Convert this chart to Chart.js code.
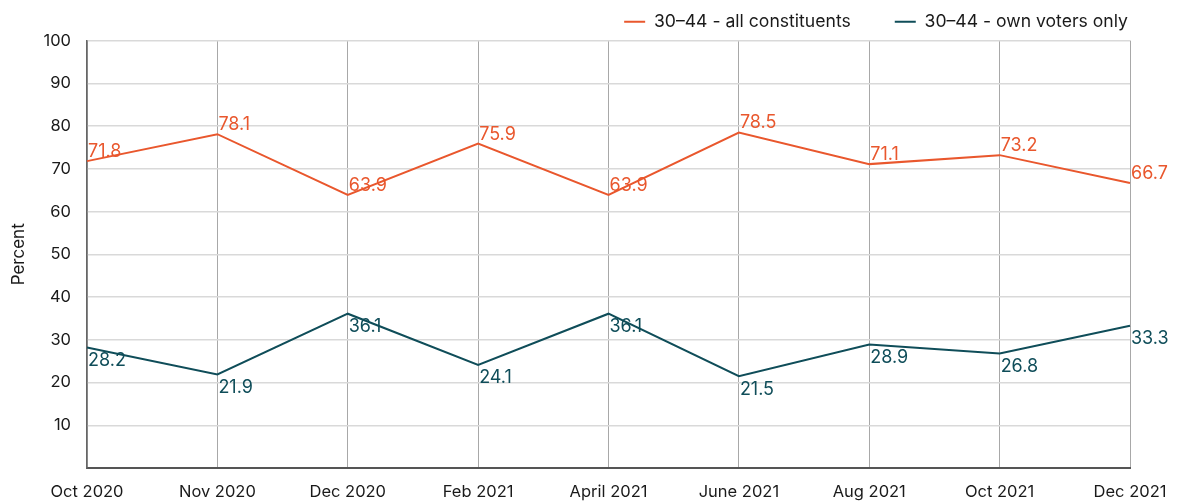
<!DOCTYPE html>
<html>
<head>
<meta charset="utf-8">
<script src="https://cdn.jsdelivr.net/npm/chart.js@4"></script>
<style>
  html, body { margin: 0; padding: 0; background: #fff; }
  #wrap { width: 1178px; height: 502px; }
</style>
</head>
<body>
<div id="wrap"><canvas id="c" width="1178" height="502"></canvas></div>
<script>
const categories = ['Oct 2020', 'Nov 2020', 'Dec 2020', 'Feb 2021', 'April 2021', 'June 2021', 'Aug 2021', 'Oct 2021', 'Dec 2021'];
const allConstituents = [71.8, 78.1, 63.9, 75.9, 63.9, 78.5, 71.1, 73.2, 66.7];
const ownVotersOnly = [28.2, 21.9, 36.1, 24.1, 36.1, 21.5, 28.9, 26.8, 33.3];
const seriesNames = ['30\u201344 - all constituents', '30\u201344 - own voters only'];
const yTicks = [10, 20, 30, 40, 50, 60, 70, 80, 90, 100];

const ORANGE = '#e9572d';
const TEAL = '#0f4d59';
const FONT = 'Inter, "Noto Sans", sans-serif';

const valueLabels = {
  id: 'valueLabels',
  afterDatasetsDraw(chart) {
    const ctx = chart.ctx;
    ctx.save();
    ctx.font = '18px ' + FONT;
    ctx.textAlign = 'left';
    chart.data.datasets.forEach((ds, i) => {
      const meta = chart.getDatasetMeta(i);
      ctx.fillStyle = ds.borderColor;
      meta.data.forEach((pt, j) => {
        const v = ds.data[j];
        if (i === 0) {
          ctx.textBaseline = 'alphabetic';
          ctx.fillText(v.toFixed(1), pt.x + 1, pt.y - 4);
        } else {
          ctx.textBaseline = 'top';
          ctx.fillText(v.toFixed(1), pt.x + 1, pt.y + 4);
        }
      });
    });
    ctx.restore();
  }
};

new Chart(document.getElementById('c'), {
  type: 'line',
  data: {
    labels: categories,
    datasets: [
      { label: seriesNames[0], data: allConstituents, borderColor: ORANGE, backgroundColor: ORANGE, borderWidth: 2, pointRadius: 0, tension: 0 },
      { label: seriesNames[1], data: ownVotersOnly, borderColor: TEAL, backgroundColor: TEAL, borderWidth: 2, pointRadius: 0, tension: 0 }
    ]
  },
  options: {
    responsive: false,
    animation: false,
    layout: { padding: { top: -31, right: 6, left: 0, bottom: 0 } },
    plugins: {
      tooltip: { enabled: false },
      legend: {
        position: 'top',
        align: 'end',
        labels: {
          usePointStyle: true,
          pointStyle: 'line',
          pointStyleWidth: 21,
          padding: 44,
          color: '#1a1a1a',
          font: { family: FONT, size: 17.6 }
        }
      }
    },
    scales: {
      x: {
        offset: false,
        grid: { color: '#a8a8a8', lineWidth: 1, drawTicks: false },
        border: { color: '#555', width: 2 },
        ticks: { padding: 14, color: '#1a1a1a', font: { family: FONT, size: 16.5 }, maxRotation: 0, autoSkip: false },
        afterFit: (s) => { s.height = 34; s.paddingRight = 48; }
      },
      y: {
        min: 0, max: 100,
        afterBuildTicks: (s) => { s.ticks = [0].concat(yTicks).map(v => ({ value: v })); },
        grid: { color: '#d9d9d9', lineWidth: 1.5, drawTicks: false },
        border: { color: '#666', width: 1.5 },
        ticks: { padding: 16, color: '#1a1a1a', font: { family: FONT, size: 16.5 }, callback: (v) => v === 0 ? '' : v },
        title: { display: true, text: 'Percent', color: '#1a1a1a', font: { family: FONT, size: 17 }, padding: { top: 9, bottom: 0 } },
        afterFit: (s) => { s.width = 87; }
      }
    }
  },
  plugins: [valueLabels]
});
</script>
</body>
</html>
